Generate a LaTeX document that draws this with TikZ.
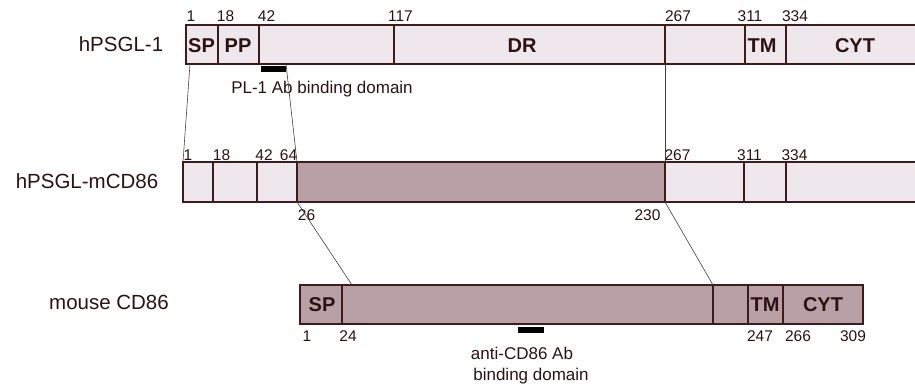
\documentclass[tikz,border=0pt]{standalone}
\usepackage{fontspec}
\setmainfont{Liberation Sans}
\usepackage{tikz}
\definecolor{segLite}{RGB}{238,231,236}
\definecolor{segDark}{RGB}{184,160,166}
\definecolor{segLine}{RGB}{62,28,28}
\definecolor{segText}{RGB}{45,18,18}
\tikzset{
  segedge/.style={segLine, line width=1.2pt},
  linker/.style={black!75, line width=0.6pt},
  rowname/.style={font=\fontsize{20.5}{24}\selectfont, text=segText},
  domname/.style={font=\bfseries\fontsize{20}{22}\selectfont, text=segText},
  num/.style={font=\fontsize{15.5}{18}\selectfont, text=segText},
  note/.style={font=\fontsize{17}{20}\selectfont, text=segText}
}

\begin{document}
\begin{tikzpicture}[x=1pt, y=-1pt]
  \useasboundingbox (0,0) rectangle (915,390);

  % hPSGL-1
  \fill[segLite] (186,25) rectangle (915,64);
  \draw[segedge] (915,25) -- (186,25) -- (186,64) -- (915,64);
  \foreach \x in {218,259,394,665,745,786}
    \draw[segedge] (\x,25) -- (\x,64);
  \node[rowname] (name1) at (121,44) {hPSGL-1};
  \foreach \x/\t/\n in {201.5/SP/sp, 238/PP/pp, 522/DR/dr, 762/TM/tm, 855/CYT/cyt}
    \node[domname] (r1-\n) at (\x,46) {\t};
  \foreach \x/\t in {191/1, 225.5/18, 266.5/42, 400.5/117, 678/267, 750/311, 795/334}
    \node[num] (r1-\t) at (\x,16) {\t};
  \fill[black] (261,66) rectangle (286,72);
  \node[note] (pl1) at (322,89) {PL-1 Ab binding domain};

  % hPSGL-mCD86
  \fill[segLite] (183,162) rectangle (915,202);
  \fill[segDark] (297,162) rectangle (665,202);
  \draw[segedge] (915,162) -- (183,162) -- (183,202) -- (915,202);
  \foreach \x in {213,257,297,665,744,786}
    \draw[segedge] (\x,162) -- (\x,202);
  \node[rowname] (name2) at (87,181) {hPSGL-mCD86};
  \foreach \x/\t in {188/1, 221.5/18, 264/42, 288.5/64, 677.5/267, 749.5/311, 794.5/334}
    \node[num] (r2-\t) at (\x,155) {\t};
  \node[num] (r2-26) at (306.5,215) {26};
  \node[num] (r2-230) at (647.5,215) {230};

  % mouse CD86
  \fill[segDark] (300,285) rectangle (863,324);
  \draw[segedge] (300,285) rectangle (863,324);
  \foreach \x in {342,713,748,783}
    \draw[segedge] (\x,285) -- (\x,324);
  \node[rowname] (name3) at (109,302) {mouse CD86};
  \foreach \x/\t/\n in {322/SP/sp, 765/TM/tm, 823/CYT/cyt}
    \node[domname] (r3-\n) at (\x,305) {\t};
  \foreach \x/\t in {307/1, 348/24, 760/247, 798/266, 853/309}
    \node[num] (r3-\t) at (\x,336) {\t};
  \fill[black] (518,327) rectangle (544,333);
  \node[note] (cd86a) at (522,353) {anti-CD86 Ab};
  \node[note] (cd86b) at (531,376) {binding domain};

  % linkers between rows
  \coordinate (a1) at (190,64);
  \coordinate (a2) at (183,162);
  \coordinate (b1) at (286,64);
  \coordinate (b2) at (297,162);
  \coordinate (c1) at (665,64);
  \coordinate (c2) at (665,162);
  \coordinate (d1) at (297,202);
  \coordinate (d2) at (352,285);
  \coordinate (e1) at (665,202);
  \coordinate (e2) at (713,285);
  \draw[linker] (a1) -- (a2);
  \draw[linker] (b1) -- (b2);
  \draw[linker] (c1) -- (c2);
  \draw[linker] (d1) -- (d2);
  \draw[linker] (e1) -- (e2);
\end{tikzpicture}
\end{document}
